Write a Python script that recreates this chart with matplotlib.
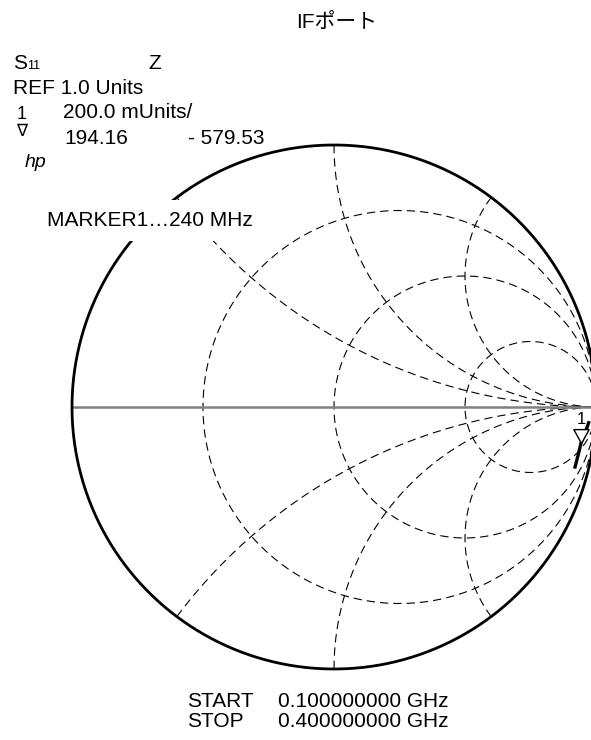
import numpy as np
import matplotlib
matplotlib.use("Agg")
import matplotlib.pyplot as plt
from matplotlib.path import Path

plt.rcParams['lines.scale_dashes'] = False

W, H = 591, 740

# grid values (normalised impedance)
r_circles = [1 / 3, 1.0, 3.0]
x_arcs = [0.5, 1.0, 2.0]

# S11 trace (reflection coefficient)
freq_ghz = [0.10, 0.17, 0.24, 0.32, 0.40]
gamma_re = [0.972, 0.958, 0.943, 0.932, 0.920]
gamma_im = [-0.060, -0.100, -0.137, -0.183, -0.229]
marker_freq = 0.24

title = "IFポート"
marker_text = "MARKER1…240 MHz"
start_text = "0.100000000 GHz"
stop_text = "0.400000000 GHz"

fig = plt.figure(figsize=(W / 100, H / 100), dpi=100)
ax = fig.add_axes([0, 0, 1, 1])
cx, cy, R = 334, 407, 262
ax.set_xlim((0 - cx) / R, (W - cx) / R)
ax.set_ylim((cy - H) / R, cy / R)
ax.axis('off')

dash = dict(color='black', lw=0.8, linestyle=(0, (6, 3.6)))

# constant resistance circles
t = np.linspace(0, 2 * np.pi, 600)
for r in r_circles:
    c = r / (1 + r)
    rad = 1 / (1 + r)
    ax.plot(c + rad * np.cos(t), rad * np.sin(t), **dash)

# constant reactance arcs
rr = np.concatenate([[0], np.logspace(-3, 4, 3000)])
for x in x_arcs:
    for s in (1, -1):
        z = rr + 1j * s * x
        g = (z - 1) / (z + 1)
        ax.plot(g.real, g.imag, **dash)

# real axis
ax.plot([-1, 1], [0, 0], color='#808080', lw=1.8)

# outer circle
ax.plot(np.cos(t), np.sin(t), color='black', lw=2.0, zorder=3)

# trace
ax.plot(gamma_re, gamma_im, color='black', lw=2.4, zorder=4)

# marker
mi = freq_ghz.index(marker_freq)
mpath = Path([(0, 0), (-0.55, 1), (0.55, 1), (0, 0)],
             [Path.MOVETO, Path.LINETO, Path.LINETO, Path.CLOSEPOLY])
ax.plot(gamma_re[mi], gamma_im[mi], marker=mpath, ms=20, mfc='white',
        mec='black', mew=1.0, zorder=5)
ax.annotate('1', xy=(gamma_re[mi], gamma_im[mi]), xytext=(0, 17),
            textcoords='offset points', ha='center', va='center',
            fontsize=12, family='Liberation Sans', zorder=6)


def ftext(x, y, s, **kw):
    kw.setdefault('fontsize', 15)
    kw.setdefault('family', ['Liberation Sans', 'DejaVu Sans'])
    return fig.text(x / W, 1 - y / H, s, va='baseline', **kw)


ftext(337, 28, title, ha='center', family=['Liberation Sans', 'Noto Sans CJK JP'])
ftext(13, 69, "S")
ftext(27, 69, "11", fontsize=9)
ftext(148, 69, "Z")
ftext(13, 94, "REF 1.0 Units")
ftext(17, 119, "1", fontsize=13)
ftext(63, 118, "200.0 mUnits/")
ftext(16, 136, "∇", fontsize=12, family=['DejaVu Sans'])
ftext(64, 144, "194.16")
ftext(188, 144, "- 579.53")
ftext(25, 167, "hp", style='italic', fontsize=14)
ftext(47, 226, marker_text, zorder=10,
      bbox=dict(facecolor='white', edgecolor='none', pad=8))
ftext(187, 707, "START")
ftext(278, 707, start_text)
ftext(187, 727, "STOP")
ftext(278, 727, stop_text)

fig.savefig('out.png', dpi=100)
